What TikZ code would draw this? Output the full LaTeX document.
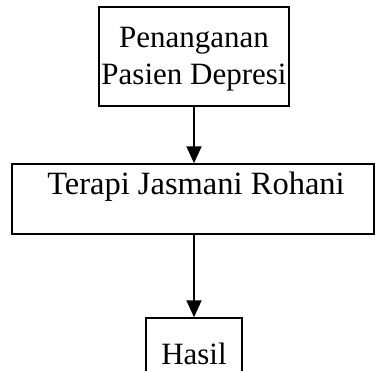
\documentclass[tikz,border=0pt]{standalone}
\usepackage{fontspec}
\setmainfont{Liberation Serif}
\usetikzlibrary{arrows.meta}
\begin{document}
\begin{tikzpicture}[x=1pt,y=-1pt,
  box/.style={draw=black,line width=1.5pt,rectangle,inner sep=0pt},
  lbl/.style={font=\fontsize{31}{37}\selectfont,align=center,inner sep=0pt},
  arr/.style={line width=2pt,-{Triangle[width=15pt,length=17pt]}}]
\useasboundingbox (0,0) rectangle (386,370);
\node[box,minimum width=190pt,minimum height=99pt] (top) at (194,56.5) {};
\node[lbl] (toptext) at (194,59) {Penanganan\\Pasien Depresi};
\node[box,minimum width=362pt,minimum height=70pt] (mid) at (193,199) {};
\node[lbl,font=\fontsize{32.5}{37}\selectfont] (midtext) at (196,187) {Terapi Jasmani Rohani};
\node[box,minimum width=96pt,minimum height=80pt] (bot) at (194,358) {};
\node[lbl] (bottext) at (194,354) {Hasil};
\draw[arr] (top.south) -- (top.south |- mid.north);
\draw[arr] (mid.south -| bot.north) -- (bot.north);
\end{tikzpicture}
\end{document}
